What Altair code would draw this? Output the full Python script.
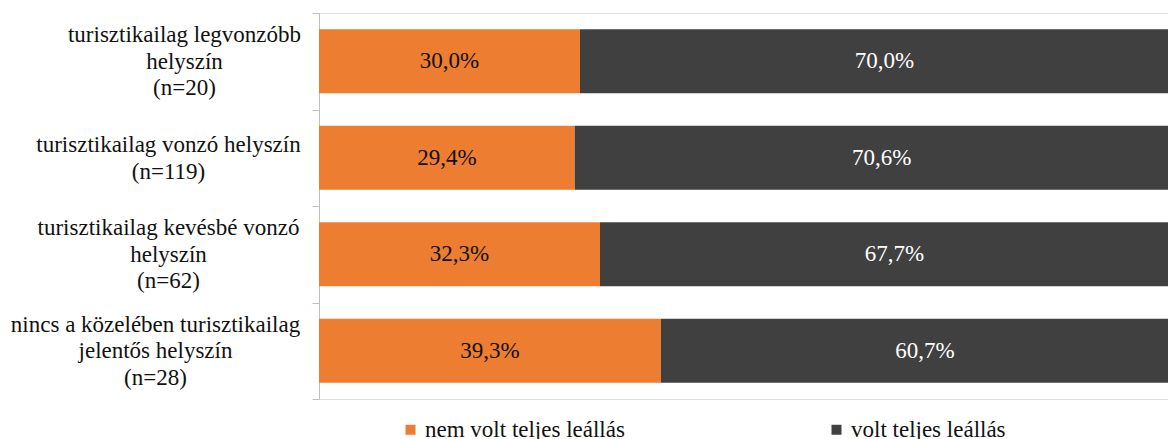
import altair as alt
import pandas as pd

categories = [
    "turisztikailag legvonzóbb|helyszín|(n=20)",
    "turisztikailag vonzó helyszín|(n=119)",
    "turisztikailag kevésbé vonzó|helyszín|(n=62)",
    "nincs a közelében turisztikailag|jelentős helyszín|(n=28)",
]
series = ["nem volt teljes leállás", "volt teljes leállás"]
nem_volt = [30.0, 29.4, 32.3, 39.3]
volt = [70.0, 70.6, 67.7, 60.7]
colors = ["#ED7D31", "#404040"]
label_pads = [128, 144, 144, 157]
LINE_H = 26.5

rows = []
for i, c in enumerate(categories):
    for s, vals in zip(series, [nem_volt, volt]):
        v = vals[i]
        rows.append({
            "cat": c,
            "series": s,
            "order": series.index(s),
            "value": v,
            "label": f"{v:.1f}".replace(".", ",") + "%",
        })
df = pd.DataFrame(rows)

FONT = "Liberation Serif"

pad_cond = [
    {"test": f"datum.value == '{c}'", "value": p}
    for c, p in zip(categories[:-1], label_pads[:-1])
]
# vertically centre multi-line labels on their band
off_cond = [
    {"test": f"datum.value == '{c}'", "value": -(len(c.split('|')) - 1) * LINE_H / 2}
    for c in categories[:-1]
]
off_last = -(len(categories[-1].split('|')) - 1) * LINE_H / 2

y_enc = alt.Y(
    "cat:N",
    sort=categories,
    title=None,
    scale=alt.Scale(paddingInner=0, paddingOuter=0),
    axis=alt.Axis(
        labelExpr="split(datum.label, '|')",
        labelFont=FONT,
        labelFontSize=23,
        labelColor="#111111",
        labelLineHeight=LINE_H,
        labelAlign="center",
        labelBaseline="middle",
        labelPadding={"condition": pad_cond, "value": label_pads[-1]},
        labelOffset={"condition": off_cond, "value": off_last},
        labelLimit=400,
        tickBand="extent",
        tickSize=7,
        tickColor="#BFBFBF",
        domainColor="#BFBFBF",
        grid=False,
    ),
)

x_scale = alt.Scale(domain=[0, 97.6], nice=False, zero=True)

base = alt.Chart(df).transform_stack(
    stack="value", groupby=["cat"], as_=["x0", "x1"],
    sort=[alt.SortField("order", order="ascending")],
).transform_calculate(mid="(datum.x0 + datum.x1) / 2")

bars = base.mark_bar(clip=True, height=alt.RelativeBandSize(0.663)).encode(
    y=y_enc,
    x=alt.X("x0:Q", scale=x_scale, axis=None),
    x2="x1:Q",
    color=alt.Color(
        "series:N",
        sort=series,
        scale=alt.Scale(domain=series, range=colors),
        legend=alt.Legend(
            orient="none",
            legendX=80,
            legendY=405,
            direction="horizontal",
            title=None,
            symbolType="square",
            symbolSize=100,
            symbolStrokeWidth=0,
            labelFont=FONT,
            labelFontSize=23,
            labelColor="#111111",
            labelOffset=3,
            labelLimit=400,
            columnPadding=200,
            padding=0,
        ),
    ),
)

texts = base.mark_text(font=FONT, fontSize=23, baseline="middle", align="center").encode(
    y=alt.Y("cat:N", sort=categories),
    x=alt.X("mid:Q", scale=x_scale),
    text="label:N",
    color=alt.condition(
        "datum.series == 'volt teljes leállás'", alt.value("white"), alt.value("#111111")
    ),
)

chart = alt.layer(bars, texts).properties(
    width=849,
    height=386,
    autosize=alt.AutoSizeParams(type="none"),
    padding={"left": 311, "top": 5, "right": 0, "bottom": 40},
).configure_view(stroke=None).configure(background="white")

chart.save("out.html", embed_options={"renderer": "svg", "actions": False})
